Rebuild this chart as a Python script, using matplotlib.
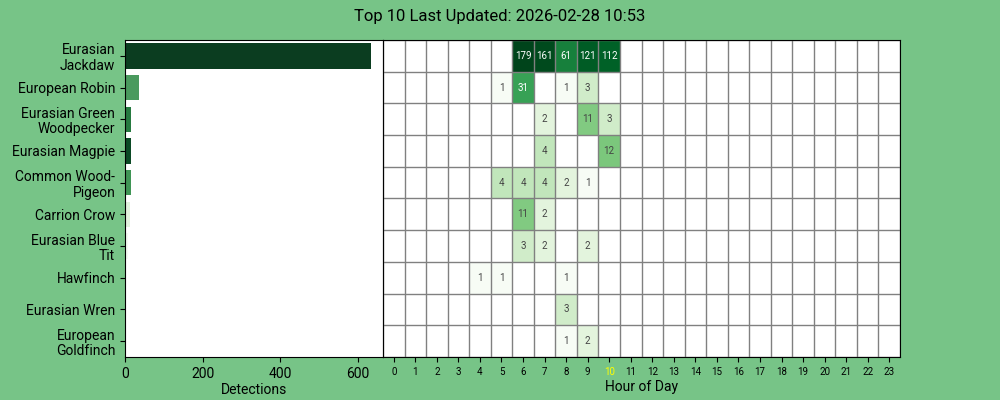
import numpy as np
import matplotlib
matplotlib.use('Agg')
import matplotlib.pyplot as plt
from matplotlib.colors import LogNorm

plt.rcParams['font.family'] = ['Roboto', 'DejaVu Sans']

species = ['Eurasian\nJackdaw', 'European Robin', 'Eurasian Green\nWoodpecker',
           'Eurasian Magpie', 'Common Wood-\nPigeon', 'Carrion Crow',
           'Eurasian Blue\nTit', 'Hawfinch', 'Eurasian Wren', 'European\nGoldfinch']
hours = list(range(24))
current_hour = 10
title = 'Top 10 Last Updated: 2026-02-28 10:53'

# detections per hour, only non-zero hours listed
hourly = {
    0: {6: 179, 7: 161, 8: 61, 9: 121, 10: 112},
    1: {5: 1, 6: 31, 8: 1, 9: 3},
    2: {7: 2, 9: 11, 10: 3},
    3: {7: 4, 10: 12},
    4: {5: 4, 6: 4, 7: 4, 8: 2, 9: 1},
    5: {6: 11, 7: 2},
    6: {6: 3, 7: 2, 9: 2},
    7: {4: 1, 5: 1, 8: 1},
    8: {8: 3},
    9: {8: 1, 9: 2},
}
bar_colors = ['#0b3d20', '#4a9a5e', '#267a40', '#0b4a25', '#3f9555',
              '#e2f2de', '#f4faf2', '#fafdf9', '#fafdf9', '#fafdf9']

bg = '#77c487'
grid = np.zeros((len(species), len(hours)))
for r, row in hourly.items():
    for h, v in row.items():
        grid[r, h] = v
totals = grid.sum(axis=1)

fig = plt.figure(figsize=(10, 4), dpi=100, facecolor=bg)
ax1 = fig.add_axes([0.125, 0.1075, 0.258, 0.7925])
ax2 = fig.add_axes([0.383, 0.1075, 0.517, 0.7925])

# left: total detections
y = np.arange(len(species))
ax1.barh(y, totals, height=0.8, color=bar_colors)
ax1.set_ylim(len(species) - 0.5, -0.5)
ax1.set_xlim(0, 664)
ax1.set_yticks(y)
ax1.set_yticklabels(species, fontsize=10, linespacing=1.15)
ax1.set_xticks([0, 200, 400, 600])
ax1.tick_params(axis='x', labelsize=10)
ax1.set_xlabel('Detections', fontsize=10, labelpad=2)

# right: hourly heatmap
masked = np.ma.masked_where(grid == 0, grid)
ax2.set_facecolor('white')
ax2.imshow(masked, cmap='Greens', norm=LogNorm(vmin=1, vmax=grid.max()),
           aspect='auto', interpolation='nearest',
           extent=(-0.5, 23.5, len(species) - 0.5, -0.5))
ax2.set_xlim(-0.5, 23.5)
ax2.set_ylim(len(species) - 0.5, -0.5)
for i in range(len(species) + 1):
    ax2.axhline(i - 0.5, color='#808080', lw=1)
for j in range(len(hours) + 1):
    ax2.axvline(j - 0.5, color='#808080', lw=1)
for r in range(len(species)):
    for h in hours:
        v = grid[r, h]
        if v > 0:
            c = 'white' if v > 20 else '#444444'
            ax2.text(h, r, '%d' % v, ha='center', va='center', fontsize=7, color=c)
ax2.set_yticks([])
ax2.set_xticks(hours)
ax2.set_xticklabels([str(h) for h in hours], fontsize=7)
ax2.get_xticklabels()[current_hour].set_color('yellow')
ax2.set_xlabel('Hour of Day', fontsize=10, labelpad=2)

fig.suptitle(title, fontsize=12, y=0.978)

fig.savefig('out.png', dpi=100, facecolor=bg)
